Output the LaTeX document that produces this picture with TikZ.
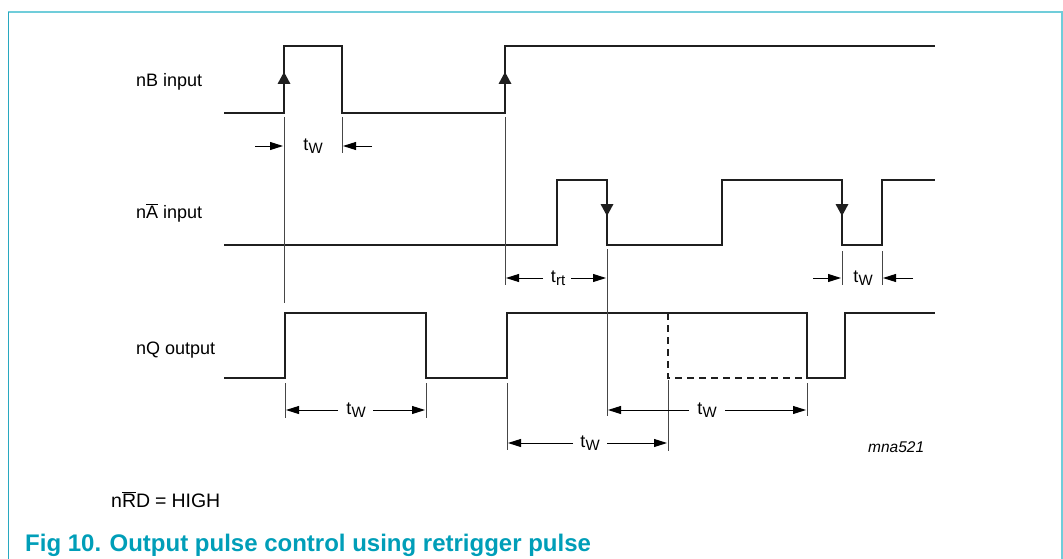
\documentclass[tikz,border=0pt]{standalone}
\usepackage{fontspec}
\setmainfont{Liberation Sans}
\usetikzlibrary{arrows.meta}
\definecolor{framecyan}{RGB}{112,205,218}
\definecolor{frameleft}{RGB}{40,168,192}
\definecolor{captioncol}{RGB}{0,158,184}
\definecolor{thingray}{RGB}{70,70,70}
\newcommand\tsub[1]{t\kern0.3pt\raisebox{-0.3ex}{\fontsize{15}{15}\selectfont #1}}
\tikzset{
  wave/.style={line width=2.8pt, line join=miter, black!88},
  dashwave/.style={line width=2.8pt, dash pattern=on 7pt off 5pt, black!88},
  ext/.style={line width=0.8pt, thingray},
  dim/.style={line width=0.9pt, -{Triangle[length=13pt,width=8pt]}},
  lbl/.style={font=\fontsize{18}{20}\selectfont, anchor=base west, inner sep=0pt},
  tlbl/.style={font=\fontsize{18}{20}\selectfont, anchor=center, inner sep=0pt},
  edgetip/.style={fill=black!88}
}
\begin{document}
\begin{tikzpicture}[x=1pt,y=-1pt]
\useasboundingbox (0,0) rectangle (1063,559);
% frame
\draw[framecyan, line width=2pt] (8,12) -- (1062,12) -- (1062,559);
\draw[frameleft, line width=1pt] (8,12) -- (8,559);

% labels
\node[lbl] (lb) at (136,87) {nB input};
\node[lbl] (la) at (136,218) {n$\overline{\mbox{A}}$ input};
\node[lbl] (lq) at (136,354) {nQ output};
\node[lbl, font=\fontsize{19.5}{21}\selectfont] (lrd) at (111,507) {n$\overline{\mbox{R}}$D\hspace{5pt}=\hspace{5pt}HIGH};
\node[font=\fontsize{15.5}{17}\selectfont\itshape, anchor=base west, inner sep=0pt] (code) at (868,452) {mna521};
\node[font=\fontsize{24}{26}\selectfont\bfseries, text=captioncol, anchor=base west, inner sep=0pt] (cap) at (25,551) {Fig 10.\hspace{0.35em}Output pulse control using retrigger pulse};

% nB input waveform
\draw[wave] (224,113) -- (284,113) -- (284,46) -- (342,46) -- (342,113) -- (505,113) -- (505,46) -- (935,46);
\fill[edgetip] (284,72) -- (277.5,84) -- (290.5,84) -- cycle;
\fill[edgetip] (505,72) -- (498.5,84) -- (511.5,84) -- cycle;

% nA input waveform
\draw[wave] (224,245) -- (557,245) -- (557,180) -- (607,180) -- (607,245) -- (722,245) -- (722,180) -- (842,180) -- (842,245) -- (882,245) -- (882,180) -- (935,180);
\fill[edgetip] (607,216) -- (600.5,204) -- (613.5,204) -- cycle;
\fill[edgetip] (842,216) -- (835.5,204) -- (848.5,204) -- cycle;

% nQ output waveform
\draw[wave] (224,378) -- (285,378) -- (285,313) -- (426,313) -- (426,378) -- (507,378) -- (507,313) -- (807,313) -- (807,378) -- (845,378) -- (845,313) -- (935,313);
\draw[dashwave] (668,313) -- (668,378) -- (807,378);

% extension lines
\coordinate (e1a) at (284,117); \coordinate (e1b) at (284,303);
\coordinate (e2a) at (342,117); \coordinate (e2b) at (342,153);
\coordinate (e3a) at (505,117); \coordinate (e3b) at (505,285);
\coordinate (e4a) at (607,249); \coordinate (e4b) at (607,416);
\coordinate (e5a) at (842,251); \coordinate (e5b) at (842,285);
\coordinate (e6a) at (882,251); \coordinate (e6b) at (882,285);
\coordinate (e7a) at (285,383); \coordinate (e7b) at (285,418);
\coordinate (e8a) at (426,383); \coordinate (e8b) at (426,418);
\coordinate (e9a) at (507,383); \coordinate (e9b) at (507,450);
\coordinate (e10a) at (668,380); \coordinate (e10b) at (668,451);
\coordinate (e11a) at (807,383); \coordinate (e11b) at (807,416);
\foreach \i in {1,...,11} \draw[ext] (e\i a) -- (e\i b);

% dimension: nB tW
\node[tlbl] (tw1) at (313,146) {\tsub{W}};
\draw[dim] (255,146) -- (283,146);
\draw[dim] (372,146) -- (343,146);

% dimension: t_rt
\node[tlbl] (trt) at (558,278) {\tsub{rt}};
\draw[dim] (543,278) -- (506,278);
\draw[dim] (571,278) -- (606,278);

% dimension: nA tW
\node[tlbl] (tw2) at (863,278) {\tsub{W}};
\draw[dim] (813,278) -- (841,278);
\draw[dim] (913,278) -- (883,278);

% dimension: nQ tW 1
\node[tlbl] (tw3) at (356,410) {\tsub{W}};
\draw[dim] (338,410) -- (286,410);
\draw[dim] (373,410) -- (425,410);

% dimension: nQ tW 2
\node[tlbl] (tw4) at (590,443) {\tsub{W}};
\draw[dim] (573,443) -- (508,443);
\draw[dim] (607,443) -- (667,443);

% dimension: nQ tW 3
\node[tlbl] (tw5) at (707,410) {\tsub{W}};
\draw[dim] (689,410) -- (608,410);
\draw[dim] (725,410) -- (806,410);
\end{tikzpicture}
\end{document}
